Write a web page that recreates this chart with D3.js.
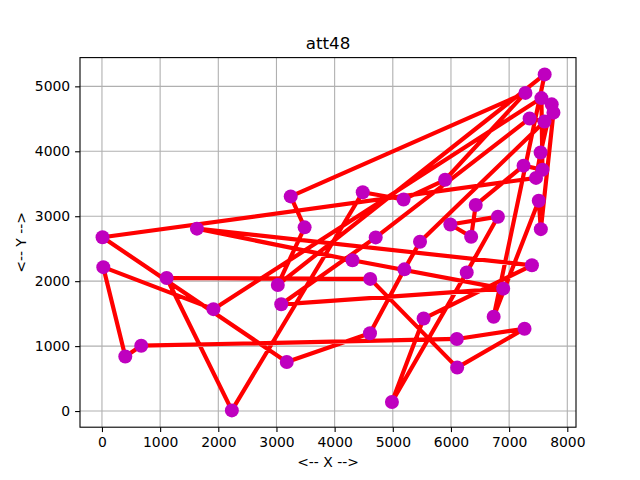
<!DOCTYPE html>
<meta charset="utf-8">
<html>
<head>
  <title>att48</title>
  <script src="https://d3js.org/d3.v7.min.js"></script>
  <style>
    body { margin: 0; background: #fff; }
    text { font-family: "DejaVu Sans", sans-serif; }
  </style>
</head>
<body>
<div id="chart"></div>
<script>
  // city coordinates (att48), index = city number - 1
  var cityX = [6734, 2233, 5530, 401, 3082, 7608, 7573, 7265, 6898, 1112, 5468, 5989,
               4706, 4612, 6347, 6107, 7611, 7462, 7732, 5900, 4483, 6101, 5199, 1633,
               4307, 675, 7555, 7541, 3177, 7352, 7545, 3245, 6426, 4608, 23, 7248,
               7762, 7392, 3484, 6271, 4985, 1916, 7280, 7509, 10, 6807, 5185, 3023];
  var cityY = [1453, 10, 1424, 841, 1644, 4458, 3716, 1268, 1885, 2049, 2606, 2873,
               2674, 2035, 2683, 669, 5184, 3590, 4723, 3561, 3369, 1110, 2182, 2809,
               2322, 1006, 4819, 3981, 756, 4506, 2801, 3305, 3173, 1198, 2216, 3779,
               4595, 2244, 2829, 2135, 140, 1569, 4899, 3239, 2676, 2993, 3258, 1942];
  // visiting order (city numbers)
  var tour = [27, 42, 35, 4, 26, 22, 8, 16, 14, 10, 2, 21, 47, 20, 43, 32, 39, 48, 17, 1,
              44, 31, 37, 19, 28, 18, 45, 29, 34, 23, 11, 6, 30, 13, 5, 9, 25, 24, 38, 3,
              41, 40, 46, 12, 15, 33, 36, 7];
  var xTicks = [0, 1000, 2000, 3000, 4000, 5000, 6000, 7000, 8000];
  var yTicks = [0, 1000, 2000, 3000, 4000, 5000];

  var width = 640, height = 480;
  var axL = 80, axR = 576, axT = 57.6, axB = 427.2;

  var svg = d3.select("#chart").append("svg")
      .attr("width", width).attr("height", height);

  // 5% margins like matplotlib autoscale
  var xMin = d3.min(cityX), xMax = d3.max(cityX);
  var yMin = d3.min(cityY), yMax = d3.max(cityY);
  var mx = (xMax - xMin) * 0.05, my = (yMax - yMin) * 0.05;
  var x = d3.scaleLinear().domain([xMin - mx, xMax + mx]).range([axL, axR]);
  var y = d3.scaleLinear().domain([yMin - my, yMax + my]).range([axB, axT]);

  // grid
  var grid = svg.append("g");
  grid.selectAll(".gx").data(xTicks).enter().append("line")
      .attr("x1", function(d){ return x(d); }).attr("x2", function(d){ return x(d); })
      .attr("y1", axT).attr("y2", axB)
      .attr("stroke", "#b0b0b0").attr("stroke-width", 1.1);
  grid.selectAll(".gy").data(yTicks).enter().append("line")
      .attr("y1", function(d){ return y(d); }).attr("y2", function(d){ return y(d); })
      .attr("x1", axL).attr("x2", axR)
      .attr("stroke", "#b0b0b0").attr("stroke-width", 1.1);

  // tour path (closed)
  var pts = tour.map(function(c){ return [cityX[c - 1], cityY[c - 1]]; });
  pts.push(pts[0]);
  var line = d3.line().x(function(d){ return x(d[0]); }).y(function(d){ return y(d[1]); });
  svg.append("path").datum(pts)
      .attr("d", line)
      .attr("fill", "none")
      .attr("stroke", "#ff0000")
      .attr("stroke-width", 4.2)
      .attr("stroke-linejoin", "round")
      .attr("stroke-linecap", "square");

  // cities
  svg.selectAll(".city").data(cityX).enter().append("circle")
      .attr("cx", function(d){ return x(d); })
      .attr("cy", function(d, i){ return y(cityY[i]); })
      .attr("r", 7)
      .attr("fill", "#bf00bf");

  // axes
  var xAxis = d3.axisBottom(x).tickValues(xTicks).tickSize(4.9).tickPadding(4.9).tickFormat(d3.format("d"));
  var yAxis = d3.axisLeft(y).tickValues(yTicks).tickSize(4.9).tickPadding(4.9).tickFormat(d3.format("d"));
  var gx = svg.append("g").attr("transform", "translate(0," + axB + ")").call(xAxis);
  var gy = svg.append("g").attr("transform", "translate(" + axL + ",0)").call(yAxis);
  [gx, gy].forEach(function(g){
    g.select(".domain").remove();
    g.selectAll("line").attr("stroke", "#000").attr("stroke-width", 1.1);
    g.selectAll("text").attr("fill", "#000").style("font-size", "13.9px")
      .style("font-family", "'DejaVu Sans', sans-serif");
  });

  // frame
  svg.append("rect")
      .attr("x", axL).attr("y", axT)
      .attr("width", axR - axL).attr("height", axB - axT)
      .attr("fill", "none").attr("stroke", "#000").attr("stroke-width", 1.1);

  svg.append("text").attr("x", (axL + axR) / 2).attr("y", axT - 8.3)
      .attr("text-anchor", "middle").style("font-size", "16.7px").text("att48");
  svg.append("text").attr("x", (axL + axR) / 2).attr("y", 467)
      .attr("text-anchor", "middle").style("font-size", "13.9px").text("<-- X -->");
  svg.append("text").attr("transform", "translate(26," + ((axT + axB) / 2) + ") rotate(-90)")
      .attr("text-anchor", "middle").style("font-size", "13.9px").text("<-- Y -->");
</script>
</body>
</html>
